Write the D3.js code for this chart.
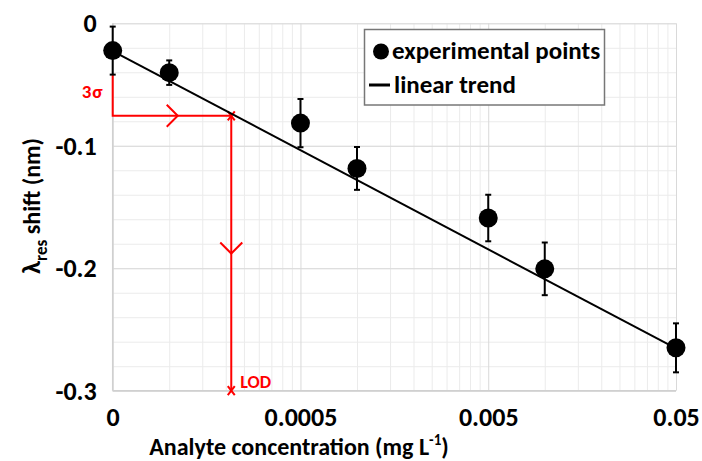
<!DOCTYPE html>
<html>
<head>
<meta charset="utf-8">
<script src="https://cdn.jsdelivr.net/npm/d3@7"></script>
<style>
  body { margin: 0; background: #fff; }
  text { font-family: Carlito, Lato, "Liberation Sans", sans-serif; }
</style>
</head>
<body>
<div id="chart"></div>
<script>
// data
const concentration = [0.00005, 0.0001, 0.0005, 0.001, 0.005, 0.01, 0.05];
const shift = [-0.0223, -0.0403, -0.0815, -0.1185, -0.159, -0.2005, -0.265];
const shiftErr = [0.0196, 0.010, 0.0197, 0.0175, 0.019, 0.0215, 0.020];

// linear trend (straight on the log axis)
const trendX = [0.00005, 0.05];
const trendY = [-0.0227, -0.2655];

// LOD construction
const lodX = 0.000214;
const level3s = -0.0755;
const arrowHX = 0.000111;
const arrowVY = -0.188;

// ticks
const xTickValues = [0.00005, 0.0005, 0.005, 0.05];
const xTickLabels = ["0", "0.0005", "0.005", "0.05"];
const yTickValues = [0, -0.1, -0.2, -0.3];
const yTickLabels = ["0", "-0.1", "-0.2", "-0.3"];

const W = 702, H = 461;
const margin = { top: 23.3, right: 26, bottom: 70.3, left: 112.7 };

const svg = d3.select("#chart").append("svg")
  .attr("width", W).attr("height", H);

const x = d3.scaleLog()
  .domain([0.00005, 0.05])
  .range([margin.left, W - margin.right]);

const y = d3.scaleLinear()
  .domain([-0.3, 0])
  .range([H - margin.bottom, margin.top]);

// minor gridlines
const xMinor = [];
xTickValues.slice(0, 3).forEach(b => {
  for (let k = 2; k <= 9; k++) xMinor.push(b * k);
});

svg.append("g")
  .attr("transform", "translate(0," + y(-0.3) + ")")
  .call(d3.axisBottom(x).tickValues(xMinor).tickSize(-(y(-0.3) - y(0))).tickFormat(""))
  .call(g => g.select(".domain").remove())
  .selectAll("line").attr("stroke", "#ebebeb").attr("stroke-width", 1);

svg.append("g")
  .attr("transform", "translate(" + x(0.00005) + ",0)")
  .call(d3.axisLeft(y).ticks(15).tickSize(-(x(0.05) - x(0.00005))).tickFormat(""))
  .call(g => g.select(".domain").remove())
  .selectAll("line").attr("stroke", "#ebebeb").attr("stroke-width", 1);

// major gridlines
svg.append("g")
  .attr("transform", "translate(0," + y(-0.3) + ")")
  .call(d3.axisBottom(x).tickValues(xTickValues).tickSize(-(y(-0.3) - y(0))).tickFormat(""))
  .call(g => g.select(".domain").remove())
  .selectAll("line").attr("stroke", "#d9d9d9").attr("stroke-width", 1);

svg.append("g")
  .attr("transform", "translate(" + x(0.00005) + ",0)")
  .call(d3.axisLeft(y).tickValues(yTickValues).tickSize(-(x(0.05) - x(0.00005))).tickFormat(""))
  .call(g => g.select(".domain").remove())
  .selectAll("line").attr("stroke", "#d9d9d9").attr("stroke-width", 1);

// axes lines
svg.append("line")
  .attr("x1", x(0.00005)).attr("x2", x(0.05))
  .attr("y1", y(-0.3)).attr("y2", y(-0.3))
  .attr("stroke", "#d0d0d0").attr("stroke-width", 1.5);
svg.append("line")
  .attr("x1", x(0.00005)).attr("x2", x(0.00005))
  .attr("y1", y(0)).attr("y2", y(-0.3))
  .attr("stroke", "#d0d0d0").attr("stroke-width", 1.5);

// tick labels
const xAxis = svg.append("g")
  .attr("transform", "translate(0," + y(-0.3) + ")")
  .call(d3.axisBottom(x).tickValues(xTickValues).tickSize(0).tickPadding(17)
    .tickFormat((d, i) => xTickLabels[i]));
xAxis.select(".domain").remove();
xAxis.selectAll("text")
  .style("font-size", "26px")
  .style("font-weight", "bold")
  .attr("fill", "#000");

const yAxis = svg.append("g")
  .attr("transform", "translate(" + x(0.00005) + ",0)")
  .call(d3.axisLeft(y).tickValues(yTickValues).tickSize(0).tickPadding(16)
    .tickFormat((d, i) => yTickLabels[i]));
yAxis.select(".domain").remove();
yAxis.selectAll("text")
  .style("font-size", "26px")
  .style("font-weight", "bold")
  .attr("fill", "#000");

// LOD construction (red)
const red = "#ff0000";
svg.append("path")
  .attr("d", "M" + x(concentration[0]) + "," + y(shift[0] - shiftErr[0]) +
    "V" + y(level3s) + "H" + x(lodX) + "V" + y(-0.3))
  .attr("fill", "none").attr("stroke", red).attr("stroke-width", 2);

// arrow heads
const ax = x(arrowHX), ayH = y(level3s);
svg.append("path")
  .attr("d", "M" + (ax - 11) + "," + (ayH - 11) + "L" + ax + "," + ayH + "L" + (ax - 11) + "," + (ayH + 11))
  .attr("fill", "none").attr("stroke", red).attr("stroke-width", 2);
const vx = x(lodX), vy = y(arrowVY);
svg.append("path")
  .attr("d", "M" + (vx - 11) + "," + (vy - 11) + "L" + vx + "," + vy + "L" + (vx + 11) + "," + (vy - 11))
  .attr("fill", "none").attr("stroke", red).attr("stroke-width", 2);

// x markers
[[lodX, level3s], [lodX, -0.3]].forEach(p => {
  const cx = x(p[0]), cy = y(p[1]);
  svg.append("path")
    .attr("d", "M" + (cx - 3.5) + "," + (cy - 4.5) + "L" + (cx + 3.5) + "," + (cy + 4.5) +
      "M" + (cx + 3.5) + "," + (cy - 4.5) + "L" + (cx - 3.5) + "," + (cy + 4.5))
    .attr("stroke", red).attr("stroke-width", 2);
});

svg.append("text")
  .attr("x", x(concentration[0]) - 9).attr("y", 98)
  .attr("text-anchor", "end")
  .style("font-size", "19px").style("font-weight", "bold")
  .style("letter-spacing", "1px")
  .attr("fill", red)
  .text("3σ");

svg.append("text")
  .attr("x", x(lodX) + 9).attr("y", y(-0.3) - 3)
  .style("font-size", "18px").style("font-weight", "bold")
  .attr("fill", red)
  .text("LOD");

// trend line
svg.append("path")
  .datum(trendX.map((d, i) => [d, trendY[i]]))
  .attr("fill", "none")
  .attr("stroke", "#000")
  .attr("stroke-width", 2)
  .attr("d", d3.line().x(d => x(d[0])).y(d => y(d[1])));

// error bars
const pts = concentration.map((d, i) => ({ c: d, v: shift[i], e: shiftErr[i] }));
const eb = svg.append("g").attr("stroke", "#000").attr("stroke-width", 2);
eb.selectAll(".bar").data(pts).enter().append("line")
  .attr("x1", d => x(d.c)).attr("x2", d => x(d.c))
  .attr("y1", d => y(d.v + d.e)).attr("y2", d => y(d.v - d.e));
eb.selectAll(".capt").data(pts).enter().append("line")
  .attr("x1", d => x(d.c) - 3).attr("x2", d => x(d.c) + 3)
  .attr("y1", d => y(d.v + d.e)).attr("y2", d => y(d.v + d.e));
eb.selectAll(".capb").data(pts).enter().append("line")
  .attr("x1", d => x(d.c) - 3).attr("x2", d => x(d.c) + 3)
  .attr("y1", d => y(d.v - d.e)).attr("y2", d => y(d.v - d.e));

// points
svg.append("g").selectAll("circle").data(pts).enter().append("circle")
  .attr("cx", d => x(d.c)).attr("cy", d => y(d.v))
  .attr("r", 9.5).attr("fill", "#000");

// legend
const lg = svg.append("g");
lg.append("rect")
  .attr("x", 364.5).attr("y", 29.5).attr("width", 240).attr("height", 75.5)
  .attr("fill", "#fff").attr("stroke", "#777").attr("stroke-width", 1.5);
lg.append("circle").attr("cx", 381).attr("cy", 51.5).attr("r", 8).attr("fill", "#000");
lg.append("text").attr("x", 392).attr("y", 59)
  .style("font-size", "25px").style("font-weight", "bold")
  .text("experimental points");
lg.append("line").attr("x1", 369).attr("x2", 390).attr("y1", 85).attr("y2", 85)
  .attr("stroke", "#000").attr("stroke-width", 3);
lg.append("text").attr("x", 394).attr("y", 93)
  .style("font-size", "25px").style("font-weight", "bold")
  .text("linear trend");

// axis titles
const xt = svg.append("text")
  .attr("x", 299).attr("y", 455)
  .attr("text-anchor", "middle")
  .style("font-size", "24px").style("font-weight", "bold");
xt.append("tspan").text("Analyte concentration (mg L");
xt.append("tspan").attr("dy", -10).style("font-size", "15px").text("-1");
xt.append("tspan").attr("dy", 10).text(")");

const yt = svg.append("text")
  .attr("transform", "translate(40,206) rotate(-90)")
  .attr("text-anchor", "middle")
  .style("font-size", "24px").style("font-weight", "bold");
yt.append("tspan").style("font-size", "27px").text("λ");
yt.append("tspan").attr("dy", 7).style("font-size", "17px").text("res");
yt.append("tspan").attr("dy", -7).text(" shift (nm)");
</script>
</body>
</html>
